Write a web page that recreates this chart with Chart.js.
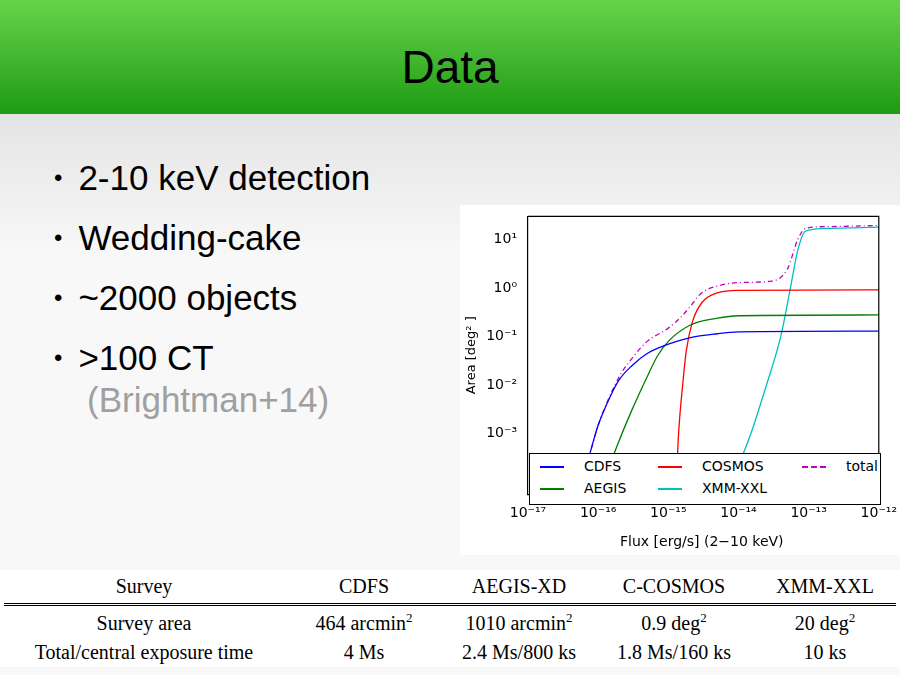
<!DOCTYPE html>
<html>
<head>
<meta charset="utf-8">
<script src="https://cdn.jsdelivr.net/npm/chart.js@4/dist/chart.umd.min.js"></script>
<style>
  body { margin: 0; width: 900px; height: 675px; overflow: hidden; font-family: "Liberation Sans", Arial, sans-serif; background: #eeeeee; }
  #header { position: absolute; left: 0; top: 0; width: 900px; height: 114px; background: linear-gradient(#66d44a, #1f9a14); }
  #header h1 { margin: 0; font-weight: normal; font-size: 46px; text-align: center; line-height: 134px; color: #000; }
  #slide { position: absolute; left: 0; top: 114px; width: 900px; height: 561px; background: linear-gradient(#e4e4e4, #f8f8f8 25%, #f8f8f8); }
  ul { position: absolute; left: 54px; top: 157px; margin: 0; padding: 0; list-style: none; font-size: 35px; }
  li { margin-bottom: 14px; line-height: 42px; }
  li:before { content: "\2022"; font-size: 24px; margin-right: 16px; position: relative; top: -4px; }
  .grey { color: #a0a0a0; padding-left: 33px; display: block; margin-top: -4px; }
  #chartBox { position: absolute; left: 460px; top: 205px; width: 440px; height: 350px; background: #fff; }
  #legend { position: absolute; left: 529px; top: 453px; width: 350px; height: 50px; border: 1px solid #000; background: #fff; font-family: "DejaVu Sans", sans-serif; font-size: 14px; }
  .lg { position: absolute; }
  .ln { display: inline-block; width: 24px; height: 2px; vertical-align: middle; margin-right: 20px; }
  #xlabel { position: absolute; left: 620px; top: 533px; font-family: "DejaVu Sans", sans-serif; font-size: 14px; }
  #table { position: absolute; left: 0; top: 570px; width: 900px; height: 97px; background: #fff; font-family: "Liberation Serif", "DejaVu Serif", serif; font-size: 20px; }
  table { border-collapse: collapse; margin-left: 4px; width: 892px; }
  td { padding: 0; height: 29px; text-align: center; white-space: nowrap; }
  tr.head td { border-bottom: 3px double #000; height: 33px; }
  sup { font-size: 13px; }
</style>
</head>
<body>
<div id="header"><h1>Data</h1></div>
<div id="slide"></div>
<ul>
  <li>2-10 keV detection</li>
  <li>Wedding-cake</li>
  <li>~2000 objects</li>
  <li>&gt;100 CT<span class="grey">(Brightman+14)</span></li>
</ul>
<div id="chartBox"><canvas id="c" width="440" height="350"></canvas></div>
<div id="legend">
  <div class="lg" style="left:10px;top:4px"><span class="ln" style="background:#0000ff"></span>CDFS</div>
  <div class="lg" style="left:10px;top:26px"><span class="ln" style="background:#008000"></span>AEGIS</div>
  <div class="lg" style="left:128px;top:4px"><span class="ln" style="background:#ff0000"></span>COSMOS</div>
  <div class="lg" style="left:128px;top:26px"><span class="ln" style="background:#00bfbf"></span>XMM-XXL</div>
  <div class="lg" style="left:272px;top:4px"><span class="ln" style="height:0;border-top:2px dashed #bf00bf"></span>total</div>
</div>
<div id="xlabel">Flux [erg/s] (2&minus;10 keV)</div>
<div id="table">
<table>
  <colgroup><col style="width:280px"><col style="width:160px"><col style="width:150px"><col style="width:160px"><col style="width:142px"></colgroup>
  <tr class="head"><td>Survey</td><td>CDFS</td><td>AEGIS-XD</td><td>C-COSMOS</td><td>XMM-XXL</td></tr>
  <tr><td style="padding-top:3px">Survey area</td><td>464 arcmin<sup>2</sup></td><td>1010 arcmin<sup>2</sup></td><td>0.9 deg<sup>2</sup></td><td>20 deg<sup>2</sup></td></tr>
  <tr><td>Total/central exposure time</td><td>4 Ms</td><td>2.4 Ms/800 ks</td><td>1.8 Ms/160 ks</td><td>10 ks</td></tr>
</table>
</div>
<script>
const cdfsFlux = [6e-17, 8e-17, 1e-16, 1.5e-16, 2e-16, 3e-16, 5e-16, 1e-15, 2e-15, 5e-15, 1e-14, 1e-12];
const cdfsArea = [1e-4, 5e-4, 1.5e-3, 6e-3, 1.3e-2, 2.5e-2, 4.5e-2, 7e-2, 0.095, 0.115, 0.125, 0.13];
const aegisFlux = [1.2e-16, 1.8e-16, 3e-16, 5e-16, 7e-16, 1e-15, 2e-15, 5e-15, 1e-14, 1e-12];
const aegisArea = [1e-4, 5e-4, 3e-3, 1.5e-2, 4e-2, 8e-2, 0.17, 0.24, 0.27, 0.28];
const cosmosFlux = [1.3e-15, 1.4e-15, 1.6e-15, 1.8e-15, 2.2e-15, 3e-15, 5e-15, 1e-14, 1e-12];
const cosmosArea = [1e-4, 1e-3, 1e-2, 0.05, 0.2, 0.5, 0.8, 0.9, 0.92];
const xxlFlux = [8e-15, 1.5e-14, 2.5e-14, 4e-14, 5.5e-14, 7e-14, 9e-14, 2e-13, 1e-12];
const xxlArea = [1e-4, 1e-3, 1e-2, 0.1, 1, 6, 15, 17, 18];
const totalFlux = [8e-17, 1e-16, 2e-16, 3e-16, 5e-16, 1e-15, 1.5e-15, 2e-15, 3e-15, 5e-15, 1e-14, 3e-14, 5e-14, 7e-14, 9e-14, 2e-13, 1e-12];
const totalArea = [5e-4, 1.5e-3, 1.5e-2, 3.5e-2, 8e-2, 0.15, 0.25, 0.4, 0.8, 1.1, 1.3, 1.4, 2.5, 10, 17, 18.5, 19.5];

const sup = { '-': '\u207b', '0': '\u2070', '1': '\u00b9', '2': '\u00b2', '3': '\u00b3', '4': '\u2074', '5': '\u2075', '6': '\u2076', '7': '\u2077', '8': '\u2078', '9': '\u2079' };
function pow10(v) {
    const e = Math.round(Math.log10(v));
    if (Math.abs(Math.log10(v) - e) > 1e-6) return null;
    return '10' + String(e).split('').map(ch => sup[ch]).join('');
}
function pts(xs, ys) { return xs.map((x, i) => ({ x: x, y: ys[i] })); }
function series(label, xs, ys, color, dash) {
    return { label: label, data: pts(xs, ys), borderColor: color, borderWidth: 1.3, pointRadius: 0,
             showLine: true, cubicInterpolationMode: 'monotone', borderDash: dash || [] };
}

// top and right sides of the axes box
const frame = {
    id: 'frame',
    afterDraw(chart) {
        const a = chart.chartArea, ctx = chart.ctx;
        ctx.save();
        ctx.strokeStyle = '#000';
        ctx.lineWidth = 1.2;
        ctx.beginPath();
        ctx.moveTo(a.left, a.top); ctx.lineTo(a.right, a.top); ctx.lineTo(a.right, a.bottom);
        ctx.stroke();
        ctx.restore();
    },
};

new Chart(document.getElementById('c'), {
    type: 'scatter',
    data: {
        datasets: [
            series('CDFS', cdfsFlux, cdfsArea, '#0000ff'),
            series('AEGIS', aegisFlux, aegisArea, '#008000'),
            series('COSMOS', cosmosFlux, cosmosArea, '#ff0000'),
            series('XMM-XXL', xxlFlux, xxlArea, '#00bfbf'),
            series('total', totalFlux, totalArea, '#bf00bf', [5, 3, 1, 3]),
        ],
    },
    options: {
        responsive: false,
        animation: false,
        layout: { padding: { left: 0, right: 18, top: 9, bottom: 30 } },
        plugins: { legend: { display: false }, tooltip: { enabled: false } },
        scales: {
            x: {
                type: 'logarithmic', min: 1e-17, max: 1e-12,
                border: { color: '#000', width: 1.2 },
                grid: { display: false },
                ticks: { color: '#000', font: { family: 'DejaVu Sans', size: 14 }, maxRotation: 0,
                         callback: v => pow10(v) },
            },
            y: {
                type: 'logarithmic', min: 5.7e-5, max: 30,
                border: { color: '#000', width: 1.2 },
                grid: { display: false },
                afterFit: s => { s.width = 68; },
                title: { display: true, text: 'Area [deg\u00b2 ]', color: '#000', font: { family: 'DejaVu Sans', size: 13 } },
                ticks: { color: '#000', font: { family: 'DejaVu Sans', size: 14 },
                         callback: v => (v >= 1e-3 ? pow10(v) : null) },
            },
        },
    },
    plugins: [frame],
});
</script>
</body>
</html>
